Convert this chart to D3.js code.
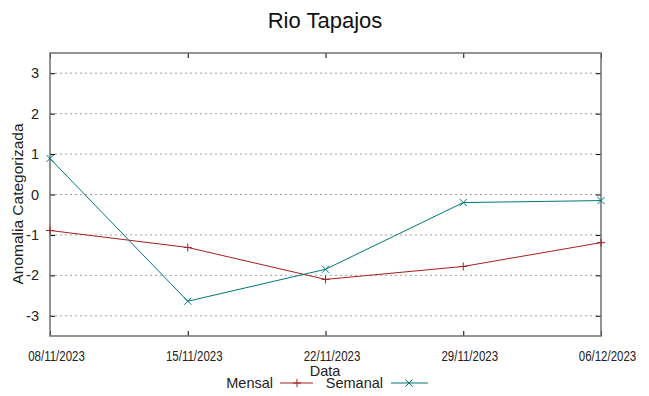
<!DOCTYPE html>
<html><head><meta charset="utf-8">
<script src="https://cdn.jsdelivr.net/npm/d3@7"></script>
<style>body{margin:0;background:#fff;} svg{display:block;font-family:"Liberation Sans",Arial,sans-serif;}</style>
</head><body>
<svg id="c" width="649" height="396"></svg>
<script>
const dates = ["08/11/2023","15/11/2023","22/11/2023","29/11/2023","06/12/2023"];
const mensal = [-0.89, -1.31, -2.10, -1.78, -1.19];
const semanal = [0.89, -2.64, -1.85, -0.20, -0.15];
const yTicks = [-3,-2,-1,0,1,2,3];

const svg = d3.select("#c");
const L=50, R=601, T=53, B=336;
const x = d3.scalePoint().domain(dates).range([L,R]);
const y = d3.scaleLinear().domain([-3.5,3.5]).range([B,T]);
const FF = "Liberation Sans, Arial, sans-serif";

// grid
svg.append("g").selectAll("line").data(yTicks).join("line")
  .attr("x1",L).attr("x2",R).attr("y1",d=>y(d)).attr("y2",d=>y(d))
  .attr("stroke","#a0a0a0").attr("stroke-width",1).attr("stroke-dasharray","2,3");

// axes
const yl = svg.append("g").attr("transform",`translate(${L},0)`)
  .call(d3.axisLeft(y).tickValues(yTicks).tickSize(-5).tickPadding(11).tickFormat(d=>String(d)));
const yr = svg.append("g").attr("transform",`translate(${R},0)`)
  .call(d3.axisRight(y).tickValues(yTicks).tickSize(-5).tickFormat(""));
const xb = svg.append("g").attr("transform",`translate(0,${B})`)
  .call(d3.axisBottom(x).tickSize(-5).tickPadding(15));
const xt = svg.append("g").attr("transform",`translate(0,${T})`)
  .call(d3.axisTop(x).tickSize(-5).tickFormat(""));
[yl,yr,xb,xt].forEach(g=>{g.select(".domain").remove(); g.selectAll("line").attr("stroke","#000");});
yl.selectAll("text").attr("font-size",14.5).attr("fill","#222").attr("font-family",FF);
xb.selectAll("text").attr("font-size",14).attr("fill","#222").attr("font-family",FF)
  .attr("dy","0.71em").attr("transform","translate(6,0) scale(0.82,1)");

// border
svg.append("rect").attr("x",L).attr("y",T).attr("width",R-L).attr("height",B-T)
  .attr("fill","none").attr("stroke","#707070").attr("stroke-width",1.5);

const line = d3.line().x((d,i)=>x(dates[i])).y(d=>y(d));
const cR = "#a52020", cT = "#007878";
function plus(g,cx,cy,c){g.append("path").attr("d",`M${cx-4},${cy}H${cx+4}M${cx},${cy-4}V${cy+4}`).attr("stroke",c).attr("stroke-width",1);}
function cross(g,cx,cy,c){g.append("path").attr("d",`M${cx-3.5},${cy-3.5}L${cx+3.5},${cy+3.5}M${cx-3.5},${cy+3.5}L${cx+3.5},${cy-3.5}`).attr("stroke",c).attr("stroke-width",1);}

const pl = svg.append("g");
pl.append("path").datum(mensal).attr("d",line).attr("fill","none").attr("stroke",cR).attr("stroke-width",1);
pl.append("path").datum(semanal).attr("d",line).attr("fill","none").attr("stroke",cT).attr("stroke-width",1);
mensal.forEach((v,i)=>plus(pl,x(dates[i]),y(v),cR));
semanal.forEach((v,i)=>cross(pl,x(dates[i]),y(v),cT));

// title & labels
svg.append("text").attr("x",325).attr("y",28).attr("text-anchor","middle").attr("font-size",22).attr("fill","#111").attr("font-family",FF).text("Rio Tapajos");
svg.append("text").attr("transform","translate(23,204) rotate(-90)").attr("text-anchor","middle").attr("font-size",15.5).attr("fill","#222").attr("font-family",FF).text("Anomalia Categorizada");
svg.append("text").attr("x",325).attr("y",376).attr("text-anchor","middle").attr("font-size",14.5).attr("fill","#222").attr("font-family",FF).text("Data");

// legend
const lg = svg.append("g");
const ly = 383;
lg.append("text").attr("x",273).attr("y",ly+5).attr("text-anchor","end").attr("font-size",14.5).attr("fill","#222").attr("font-family",FF).text("Mensal");
lg.append("line").attr("x1",280).attr("x2",313).attr("y1",ly).attr("y2",ly).attr("stroke",cR);
plus(lg,297,ly,cR);
lg.append("text").attr("x",383).attr("y",ly+5).attr("text-anchor","end").attr("font-size",14.5).attr("fill","#222").attr("font-family",FF).text("Semanal");
lg.append("line").attr("x1",391).attr("x2",428).attr("y1",ly).attr("y2",ly).attr("stroke",cT);
cross(lg,409,ly,cT);
</script>
</body></html>
